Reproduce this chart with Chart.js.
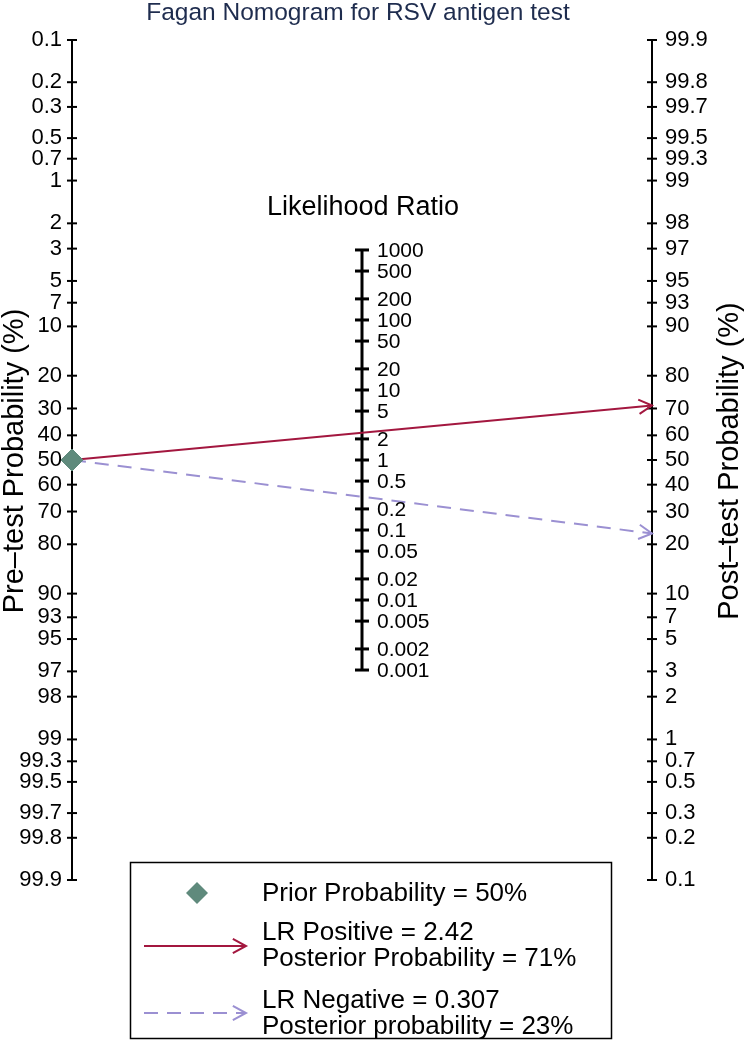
<!DOCTYPE html>
<html><head><meta charset="utf-8">
<script src="https://cdn.jsdelivr.net/npm/chart.js@4.4.1/dist/chart.umd.min.js"></script>
<style>html,body{margin:0;padding:0;background:#fff}#wrap{position:relative;width:744px;height:1050px}</style>
</head><body><div id="wrap"><canvas id="c"></canvas></div>
<script>
// ---- data ----
const titleText = 'Fagan Nomogram for RSV antigen test';
const preTickLabels = [0.1,0.2,0.3,0.5,0.7,1,2,3,5,7,10,20,30,40,50,60,70,80,90,93,95,97,98,99,99.3,99.5,99.7,99.8,99.9];
const postTickLabels = [99.9,99.8,99.7,99.5,99.3,99,98,97,95,93,90,80,70,60,50,40,30,20,10,7,5,3,2,1,0.7,0.5,0.3,0.2,0.1];
const lrTickLabels = [1000,500,200,100,50,20,10,5,2,1,0.5,0.2,0.1,0.05,0.02,0.01,0.005,0.002,0.001];
const priorProbability = 50;
const lrPositive = 2.42;
const lrNegative = 0.307;
const posteriorPositive = 71;
const posteriorNegative = 23;

// ---- helpers ----
const logit = p => Math.log(p / (100 - p));
const P_MAX = logit(99.9);
const FONT = '"Liberation Sans", Arial, Helvetica, sans-serif';
const RED = '#a3173f';
const LAV = '#9b90d2';
const DIAM = '#5f8a7c';

function arrowHead(ctx, x0, y0, x1, y1, color, len) {
  const a = Math.atan2(y1 - y0, x1 - x0);
  ctx.save();
  ctx.strokeStyle = color; ctx.lineWidth = 2; ctx.setLineDash([]);
  ctx.beginPath();
  ctx.moveTo(x1 + len * Math.cos(a + Math.PI - 0.5), y1 + len * Math.sin(a + Math.PI - 0.5));
  ctx.lineTo(x1, y1);
  ctx.lineTo(x1 + len * Math.cos(a + Math.PI + 0.5), y1 + len * Math.sin(a + Math.PI + 0.5));
  ctx.stroke();
  ctx.restore();
}

const decor = {
  id: 'decor',
  afterDatasetsDraw(chart) {
    const ctx = chart.ctx;
    const xs = chart.scales.x, ys = chart.scales.y;
    [0, 1].forEach(i => {
      const pts = chart.getDatasetMeta(i).data;
      const c = i === 0 ? RED : LAV;
      arrowHead(ctx, pts[0].x, pts[0].y, pts[1].x, pts[1].y, c, 15);
    });
    ctx.save();
    ctx.fillStyle = '#000';
    ctx.font = '21px ' + FONT;
    ctx.textAlign = 'left'; ctx.textBaseline = 'middle';
    const mx = xs.getPixelForValue(0.5);
    lrTickLabels.forEach(v => {
      ctx.fillText(String(v), mx + 15, ys.getPixelForValue(-Math.log(v) / 2) + 1);
    });
    ctx.textAlign = 'center';
    ctx.font = '27px ' + FONT;
    ctx.fillText('Likelihood Ratio', mx + 1, 208);
    ctx.fillStyle = '#1e2c4e';
    ctx.font = '24.5px ' + FONT;
    ctx.fillText(titleText, 358, 13);
    ctx.fillStyle = '#000';
    ctx.font = '29px ' + FONT;
    ctx.save(); ctx.translate(15, 461); ctx.rotate(-Math.PI / 2); ctx.fillText('Pre\u2013test Probability (%)', 0, 0); ctx.restore();
    ctx.save(); ctx.translate(730, 461); ctx.rotate(-Math.PI / 2); ctx.fillText('Post\u2013test Probability (%)', 0, 0); ctx.restore();
    // legend
    const bx = 130.5, by = 862.5, bw = 481, bh = 176;
    ctx.fillStyle = '#fff'; ctx.fillRect(bx, by, bw, bh);
    ctx.strokeStyle = '#000'; ctx.lineWidth = 1.5; ctx.strokeRect(bx, by, bw, bh);
    ctx.fillStyle = DIAM;
    ctx.beginPath(); ctx.moveTo(197, 882); ctx.lineTo(208, 893); ctx.lineTo(197, 904); ctx.lineTo(186, 893); ctx.closePath(); ctx.fill();
    ctx.strokeStyle = RED; ctx.lineWidth = 2;
    ctx.beginPath(); ctx.moveTo(144, 946); ctx.lineTo(246, 946); ctx.stroke();
    arrowHead(ctx, 144, 946, 246, 946, RED, 15);
    ctx.strokeStyle = LAV; ctx.setLineDash([14, 9]);
    ctx.beginPath(); ctx.moveTo(144, 1013); ctx.lineTo(246, 1013); ctx.stroke();
    ctx.setLineDash([]);
    arrowHead(ctx, 144, 1013, 246, 1013, LAV, 15);
    ctx.fillStyle = '#000';
    ctx.font = '26px ' + FONT;
    ctx.textAlign = 'left';
    ctx.fillText('Prior Probability = ' + priorProbability + '%', 262, 894);
    ctx.fillText('LR Positive = ' + lrPositive, 262, 933);
    ctx.fillText('Posterior Probability = ' + posteriorPositive + '%', 262, 959);
    ctx.fillText('LR Negative = ' + lrNegative, 262, 1001);
    ctx.fillText('Posterior probability = ' + posteriorNegative + '%', 262, 1027);
    ctx.restore();
  }
};

const tickFont = { family: FONT, size: 22 };

new Chart(document.getElementById('c'), {
  type: 'scatter',
  data: {
    datasets: [
      {
        data: [{ x: 0, y: logit(priorProbability) }, { x: 1, y: -logit(posteriorPositive) }],
        showLine: true, borderColor: RED, borderWidth: 2, pointRadius: 0, clip: false, order: 1, yAxisID: 'y'
      },
      {
        data: [{ x: 0, y: logit(priorProbability) }, { x: 1, y: -logit(posteriorNegative) }],
        showLine: true, borderColor: LAV, borderWidth: 2, borderDash: [14, 9], pointRadius: 0, clip: false, order: 1, yAxisID: 'y'
      },
      {
        data: [{ x: 0.5, y: -Math.log(lrTickLabels[0]) / 2 }, { x: 0.5, y: -Math.log(lrTickLabels[lrTickLabels.length - 1]) / 2 }],
        showLine: true, borderColor: '#000', borderWidth: 3, pointRadius: 0, clip: false, order: 3, yAxisID: 'y'
      },
      {
        data: lrTickLabels.map(v => ({ x: 0.5, y: -Math.log(v) / 2 })),
        pointStyle: 'line', pointRadius: 7, pointBorderWidth: 3, pointBorderColor: '#000', clip: false, order: 3, yAxisID: 'y'
      },
      {
        data: preTickLabels.map(p => ({ x: 0, y: logit(p) })),
        pointStyle: 'line', pointRadius: 5, pointBorderWidth: 2, pointBorderColor: '#000', clip: false, order: 3, yAxisID: 'y'
      },
      {
        data: postTickLabels.map(p => ({ x: 1, y: -logit(p) })),
        pointStyle: 'line', pointRadius: 5, pointBorderWidth: 2, pointBorderColor: '#000', clip: false, order: 3, yAxisID: 'y'
      },
      {
        data: [{ x: 0, y: logit(priorProbability) }],
        pointStyle: 'rectRot', pointRadius: 11, pointBackgroundColor: DIAM, pointBorderColor: DIAM, pointBorderWidth: 1, clip: false, order: 0, yAxisID: 'y'
      }
    ]
  },
  options: {
    responsive: true, maintainAspectRatio: false, animation: false, events: [],
    devicePixelRatio: 1,
    layout: { padding: { top: 40, bottom: 170, left: 0, right: 0 } },
    plugins: { legend: { display: false }, tooltip: { enabled: false }, title: { display: false } },
    scales: {
      x: { type: 'linear', min: 0, max: 1, display: false },
      y: {
        type: 'linear', position: 'left', min: -P_MAX, max: P_MAX, reverse: true,
        afterBuildTicks: s => { s.ticks = preTickLabels.map(p => ({ value: logit(p) })); },
        afterFit: s => { s.width = 72; },
        ticks: { autoSkip: false, padding: 10, color: '#000', font: tickFont, callback: (v, i) => String(preTickLabels[i]) },
        grid: { display: true, drawOnChartArea: false, drawTicks: false },
        border: { display: true, color: '#000', width: 2 }
      },
      y2: {
        type: 'linear', position: 'right', min: -P_MAX, max: P_MAX,
        afterBuildTicks: s => { s.ticks = postTickLabels.map(p => ({ value: logit(p) })); },
        afterFit: s => { s.width = 92; },
        ticks: { autoSkip: false, padding: 13, color: '#000', font: tickFont, callback: (v, i) => String(postTickLabels[i]) },
        grid: { display: true, drawOnChartArea: false, drawTicks: false },
        border: { display: true, color: '#000', width: 2 }
      }
    }
  },
  plugins: [decor]
});
</script>
</body></html>
